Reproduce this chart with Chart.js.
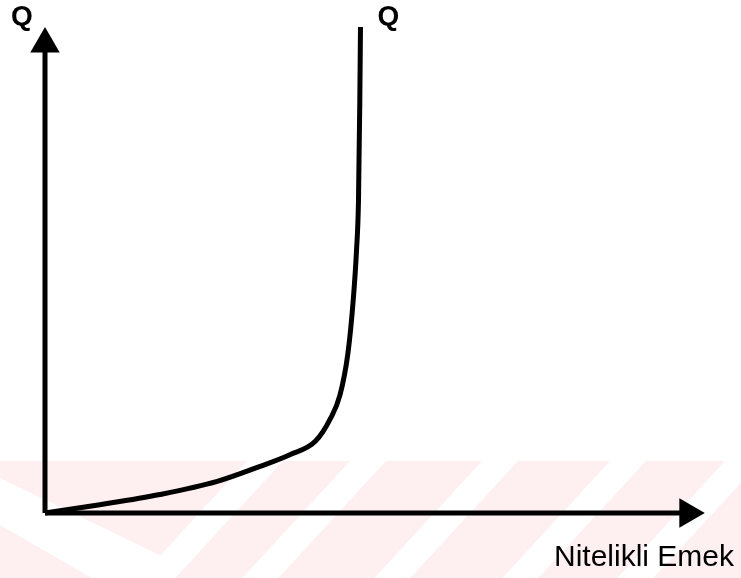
<!DOCTYPE html>
<html>
<head>
<meta charset="utf-8">
<script src="https://cdn.jsdelivr.net/npm/chart.js@4.4.1/dist/chart.umd.min.js"></script>
<style>
  html, body { margin: 0; padding: 0; background: #fff; }
  #chart { display: block; }
</style>
</head>
<body>
<canvas id="chart" width="741" height="578"></canvas>
<script>
  // output Q against skilled labour, both axes run 0..100
  var curveX = [0, 8.3, 17.4, 26.1, 32.6, 37.1, 41.0, 43.2, 44.7, 45.9, 46.7, 47.2, 47.5, 47.7, 47.8];
  var curveY = [0, 1.7, 3.8, 6.5, 9.6, 12.0, 14.8, 19.3, 24.3, 32.9, 43.8, 54.1, 64.4, 85.0, 100];
  var xAxisEnd = 97.4;
  var yAxisEnd = 96.5;
  var yLabel = 'Q';
  var curveLabel = 'Q';
  var xLabel = 'Nitelikli Emek';

  var curvePoints = curveX.map(function(x, i) { return { x: x, y: curveY[i] }; });

  // faint pink watermark band at the bottom of the scan
  var watermark = {
    id: 'watermark',
    beforeDraw: function(chart) {
      var ctx = chart.ctx;
      var top = 461, bottom = chart.height;
      ctx.save();
      ctx.fillStyle = 'rgb(254,239,241)';
      ctx.fillRect(0, top, chart.width, bottom - top);
      ctx.fillStyle = '#fff';
      // the one "\" band, left arm of the V
      ctx.beginPath();
      ctx.moveTo(0, 478);
      ctx.lineTo(170, 560);
      ctx.lineTo(130, 600);
      ctx.lineTo(0, 525);
      ctx.closePath();
      ctx.fill();
      // "/" bands
      var slope = 0.92, w = 36;
      [247, 350, 482, 610, 725].forEach(function(x0) {
        var dx = slope * (bottom - top);
        ctx.beginPath();
        ctx.moveTo(x0, top);
        ctx.lineTo(x0 + w, top);
        ctx.lineTo(x0 + w - dx, bottom);
        ctx.lineTo(x0 - dx, bottom);
        ctx.closePath();
        ctx.fill();
      });
      ctx.restore();
    }
  };

  var labels = {
    id: 'labels',
    afterDraw: function(chart) {
      var ctx = chart.ctx;
      var xs = chart.scales.x, ys = chart.scales.y;
      var ox = xs.getPixelForValue(0);
      var topY = ys.getPixelForValue(100);
      ctx.save();
      ctx.fillStyle = '#000';
      ctx.textBaseline = 'alphabetic';
      ctx.font = 'bold 28px "Liberation Sans", Arial, sans-serif';
      ctx.textAlign = 'left';
      ctx.fillText(yLabel, ox - 34, topY - 2);
      ctx.fillText(curveLabel, xs.getPixelForValue(curveX[curveX.length - 1]) + 17, topY - 2);
      ctx.font = '30px "Liberation Sans", Arial, sans-serif';
      ctx.textAlign = 'right';
      ctx.fillText(xLabel, chart.width - 7, ys.getPixelForValue(0) + 53);
      ctx.restore();
    }
  };

  new Chart(document.getElementById('chart'), {
    type: 'line',
    data: {
      datasets: [
        {
          data: curvePoints,
          borderColor: '#000',
          borderWidth: 5,
          cubicInterpolationMode: 'monotone',
          pointRadius: 0,
          fill: false,
          clip: false
        },
        {
          data: [{ x: 0, y: 0 }, { x: 0, y: yAxisEnd }],
          borderColor: '#000',
          borderWidth: 5,
          pointStyle: 'triangle',
          pointRadius: [0, 17],
          pointBackgroundColor: '#000',
          pointBorderWidth: 0,
          rotation: 0,
          clip: false
        },
        {
          data: [{ x: 0, y: 0 }, { x: xAxisEnd, y: 0 }],
          borderColor: '#000',
          borderWidth: 5,
          pointStyle: 'triangle',
          pointRadius: [0, 17],
          pointBackgroundColor: '#000',
          pointBorderWidth: 0,
          rotation: 90,
          clip: false
        }
      ]
    },
    options: {
      responsive: false,
      animation: false,
      devicePixelRatio: 1,
      layout: { padding: { left: 45, right: 36, top: 27, bottom: 65 } },
      plugins: { legend: { display: false }, tooltip: { enabled: false } },
      scales: {
        x: { type: 'linear', min: 0, max: 100, display: false },
        y: { type: 'linear', min: 0, max: 100, display: false }
      }
    },
    plugins: [watermark, labels]
  });
</script>
</body>
</html>
